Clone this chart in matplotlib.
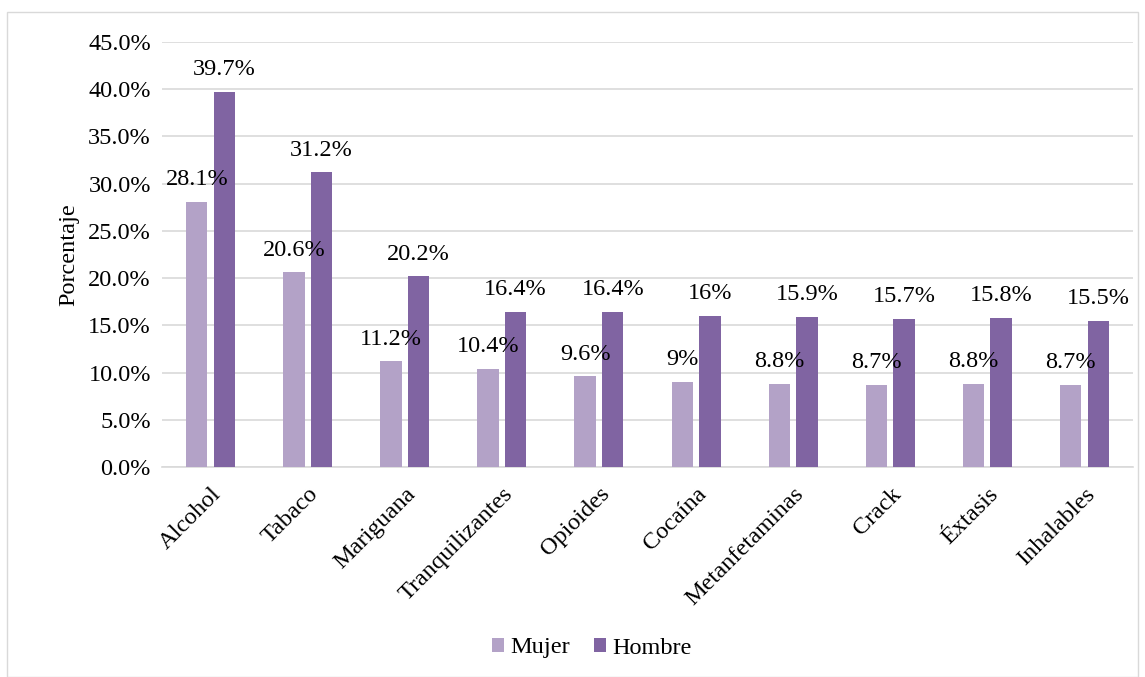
import numpy as np
import matplotlib.pyplot as plt
from matplotlib.patches import Rectangle

plt.rcParams['font.family'] = ['Liberation Serif', 'DejaVu Serif']

sustancias = ['Alcohol', 'Tabaco', 'Mariguana', 'Tranquilizantes', 'Opioides',
              'Cocaína', 'Metanfetaminas', 'Crack', 'Éxtasis', 'Inhalables']
mujer = [28.1, 20.6, 11.2, 10.4, 9.6, 9.0, 8.8, 8.7, 8.8, 8.7]
hombre = [39.7, 31.2, 20.2, 16.4, 16.4, 16.0, 15.9, 15.7, 15.8, 15.5]
mujer_txt = ['28.1%', '20.6%', '11.2%', '10.4%', '9.6%', '9%', '8.8%', '8.7%', '8.8%', '8.7%']
hombre_txt = ['39.7%', '31.2%', '20.2%', '16.4%', '16.4%', '16%', '15.9%', '15.7%', '15.8%', '15.5%']

fs = 17.5

fig = plt.figure(figsize=(11.45, 6.77), dpi=100)
fig.patches.append(Rectangle((7 / 1145, 0), 1 - 14 / 1145, 1 - 12 / 677,
                             transform=fig.transFigure, fill=False,
                             edgecolor='#D9D9D9', linewidth=1))
ax = fig.add_axes([162 / 1145, 1 - 467 / 677, (1133 - 162) / 1145, (467 - 42) / 677])

x = np.arange(len(sustancias))
w = 0.22
off = 0.142
b1 = ax.bar(x - off, mujer, w, color='#B3A2C7', label='Mujer', zorder=3)
b2 = ax.bar(x + off, hombre, w, color='#8064A2', label='Hombre', zorder=3)

for bars, txt in ((b1, mujer_txt), (b2, hombre_txt)):
    for r, t in zip(bars, txt):
        ax.annotate(t, (r.get_x() + r.get_width() / 2, r.get_height()),
                    xytext=(0, 12), textcoords='offset points',
                    ha='center', va='baseline', fontsize=fs, zorder=4)

ax.set_xlim(-0.5, len(sustancias) - 0.5)
ax.set_ylim(0, 45)
ax.set_yticks(np.arange(0, 46, 5))
ax.set_yticklabels([f'{v:.1f}%' for v in np.arange(0, 46, 5)], fontsize=fs)
ax.set_xticks(x)
ax.set_xticklabels(sustancias, rotation=45, ha='right', rotation_mode='anchor', fontsize=fs)
ax.tick_params(length=0, pad=8)
ax.tick_params(axis='x', pad=12)
ax.yaxis.grid(True, color='#D9D9D9', linewidth=1.2, zorder=0)
for s in ['top', 'right', 'left']:
    ax.spines[s].set_visible(False)
ax.spines['bottom'].set_color('#D9D9D9')
ax.spines['bottom'].set_linewidth(1.2)
ax.set_ylabel('Porcentaje', fontsize=fs, labelpad=6)

fig.legend(loc='center', bbox_to_anchor=(592 / 1145, 1 - 648 / 677), ncol=2,
           frameon=False, fontsize=fs, handlelength=0.5, handleheight=0.5,
           handletextpad=0.25, columnspacing=1.0)

fig.savefig('out.png', dpi=100)
